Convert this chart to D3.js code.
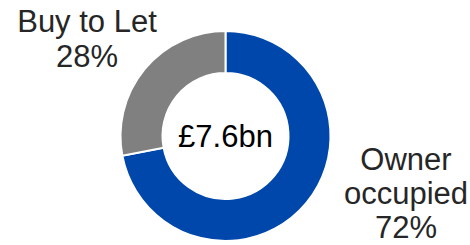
<!DOCTYPE html>
<html>
<head>
<meta charset="utf-8">
<script src="https://cdn.jsdelivr.net/npm/d3@7"></script>
<style>
  body { margin: 0; background: white; }
  svg { display: block; font-family: "Liberation Sans", Arial, sans-serif; }
</style>
</head>
<body>
<svg width="470" height="245"></svg>
<script>
var WIDTH = 470,
    HEIGHT = 245,
    CX = 225.5,
    CY = 136,
    OUTER_R = 105,
    INNER_R = 63,
    TEXT_COLOR = "#262626";

// data
var categories = ["Owner occupied", "Buy to Let"];
var shares = [72, 28];
var colors = ["#0047AB", "#808080"];
var labelLines = [["Owner", "occupied", "72%"], ["Buy to Let", "28%"]];
var centerLabel = "£7.6bn";

var svg = d3.select("svg");

var pie = d3.pie()
    .sort(null)
    .value(function(d) { return d; });
var arc = d3.arc()
    .innerRadius(INNER_R)
    .outerRadius(OUTER_R);

var g = svg.append("g")
    .attr("transform", "translate(" + CX + "," + CY + ")");

g.selectAll("path.slice")
    .data(pie(shares))
    .enter().append("path")
    .attr("class", "slice")
    .attr("d", arc)
    .style("fill", function(d, i) { return colors[i]; })
    .style("stroke", "white")
    .style("stroke-width", 2);

g.append("text")
    .attr("x", 0)
    .attr("y", 11)
    .style("font-size", "31px")
    .style("fill", "black")
    .style("text-anchor", "middle")
    .text(centerLabel);

// label positions (x centre, first baseline, line step)
var labelPos = [{x: 406, y: 170, step: 34}, {x: 87, y: 32, step: 35}];

labelLines.forEach(function(lines, i) {
    var t = svg.append("text")
        .attr("class", "label")
        .attr("x", labelPos[i].x)
        .attr("y", labelPos[i].y)
        .style("font-size", "31px")
        .style("fill", TEXT_COLOR)
        .style("text-anchor", "middle");
    lines.forEach(function(line, j) {
        t.append("tspan")
            .attr("x", labelPos[i].x)
            .attr("y", labelPos[i].y + j * labelPos[i].step)
            .text(line);
    });
});
</script>
</body>
</html>
